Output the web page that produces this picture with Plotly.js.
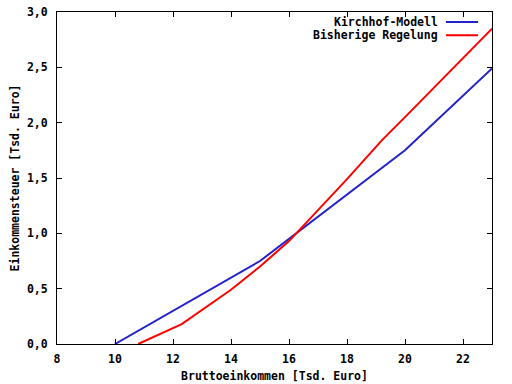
<!DOCTYPE html>
<html>
<head>
<meta charset="utf-8">
<script src="https://cdn.plot.ly/plotly-3.0.1.min.js"></script>
<style>html,body{margin:0;padding:0;background:#fff;}#chart{width:512px;height:384px;}</style>
</head>
<body>
<div id="chart"></div>
<script>
const kirchhofX = [10.0, 15.0, 20.0, 23.0];
const kirchhofY = [0.0, 0.75, 1.75, 2.49];
const bisherX = [10.8, 12.3, 14.0, 15.0, 16.0, 18.0, 19.2, 20.0, 23.0];
const bisherY = [0.0, 0.18, 0.49, 0.70, 0.93, 1.49, 1.84, 2.05, 2.85];
const seriesNames = ["Kirchhof-Modell", "Bisherige Regelung"];
const xTicks = [8, 10, 12, 14, 16, 18, 20, 22];
const yTicks = [0, 0.5, 1.0, 1.5, 2.0, 2.5, 3.0];
const colors = ["#2222c8", "#ff0000"];

const font = {family: "DejaVu Sans Mono", size: 11.5, color: "#000"};

const traces = [
  {x: kirchhofX, y: kirchhofY, mode: "lines", name: seriesNames[0], line: {color: colors[0], width: 2}},
  {x: bisherX, y: bisherY, mode: "lines", name: seriesNames[1], line: {color: colors[1], width: 2}}
];

const legendY = [0.97, 0.93];
const annotations = seriesNames.map((n, i) => ({
  xref: "paper", yref: "paper", x: 0.881, y: legendY[i], xanchor: "right", yanchor: "middle",
  text: "<b>" + n + "</b>", showarrow: false, font: font
}));
const shapes = seriesNames.map((n, i) => ({
  type: "line", xref: "paper", yref: "paper", x0: 0.894, x1: 0.968, y0: legendY[i], y1: legendY[i],
  line: {color: colors[i], width: 2}
}));

const layout = {
  width: 512, height: 384,
  margin: {l: 57, r: 20, t: 12, b: 40},
  paper_bgcolor: "#fff", plot_bgcolor: "#fff",
  separators: ",.",
  showlegend: false,
  font: font,
  xaxis: {
    range: [8, 23], tickvals: xTicks, ticktext: xTicks.map(v => "<b>" + v + "</b>"),
    ticks: "inside", ticklen: 5, tickcolor: "#000", mirror: "ticks", showline: true, linecolor: "#000", linewidth: 1,
    showgrid: false, zeroline: false, tickfont: font, ticklabelstandoff: 4,
    title: {text: "<b>Bruttoeinkommen [Tsd. Euro]</b>", font: font, standoff: 7}
  },
  yaxis: {
    range: [0, 3], tickvals: yTicks, ticktext: yTicks.map(v => "<b>" + v.toFixed(1).replace(".", ",") + "</b>"),
    ticks: "inside", ticklen: 5, tickcolor: "#000", mirror: "ticks", showline: true, linecolor: "#000", linewidth: 1,
    showgrid: false, zeroline: false, tickfont: font, ticklabelstandoff: 6,
    title: {text: "<b>Einkommensteuer [Tsd. Euro]</b>", font: font, standoff: 4}
  },
  annotations: annotations,
  shapes: shapes
};

Plotly.newPlot("chart", traces, layout, {staticPlot: true, displayModeBar: false});
</script>
</body>
</html>
